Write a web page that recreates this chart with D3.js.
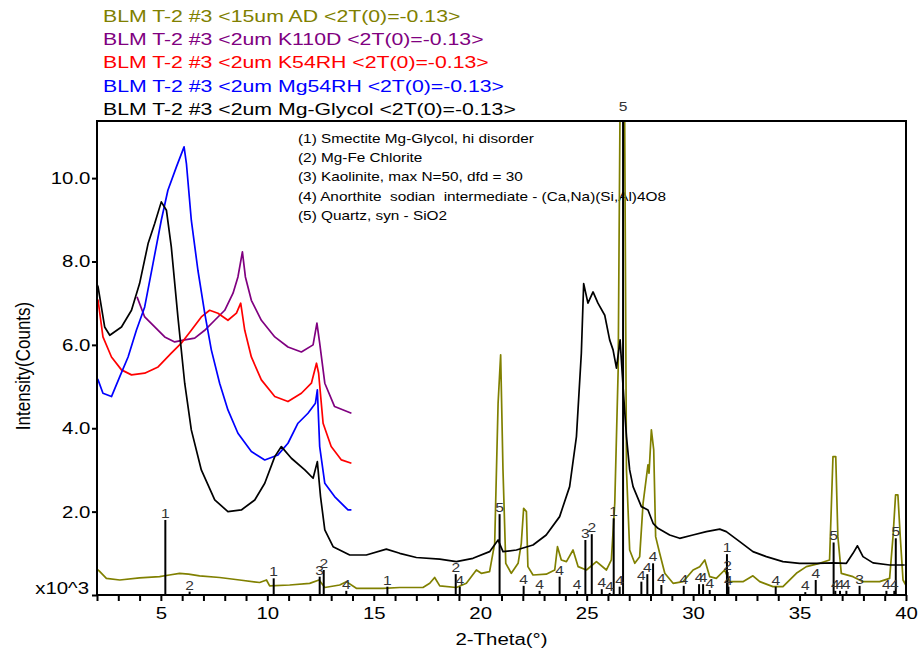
<!DOCTYPE html>
<html>
<head>
<meta charset="utf-8">
<script src="https://cdn.jsdelivr.net/npm/d3@7"></script>
<style>
  body { margin: 0; background: #fff; }
  svg { font-family: "Liberation Sans", Arial, sans-serif; }
</style>
</head>
<body>
<script>
// XRD scans, intensity in thousands of counts vs 2-theta
var legendNames = [
  "BLM T-2 #3 <15um AD <2T(0)=-0.13>",
  "BLM T-2 #3 <2um K110D <2T(0)=-0.13>",
  "BLM T-2 #3 <2um K54RH <2T(0)=-0.13>",
  "BLM T-2 #3 <2um Mg54RH <2T(0)=-0.13>",
  "BLM T-2 #3 <2um Mg-Glycol <2T(0)=-0.13>"
];
var legendColors = ["#808000", "#800080", "#ff0000", "#0000ff", "#000000"];

var phaseNames = [
  "(1) Smectite Mg-Glycol, hi disorder",
  "(2) Mg-Fe Chlorite",
  "(3) Kaolinite, max N=50, dfd = 30",
  "(4) Anorthite  sodian  intermediate - (Ca,Na)(Si,Al)4O8",
  "(5) Quartz, syn - SiO2"
];

var xTicks = d3.range(2, 41, 1);
var yTicks = [0, 2, 4, 6, 8, 10];

var ad15 = [[2.0,0.62],[2.1,0.58],[2.44,0.40],[3.07,0.36],[4.0,0.41],[4.94,0.44],[5.4,0.48],[5.88,0.52],
  [6.3,0.5],[6.82,0.46],[7.76,0.42],[8.7,0.36],[9.64,0.30],[9.96,0.36],[10.11,0.22],[11.05,0.24],
  [11.99,0.28],[12.43,0.36],[12.7,0.18],[13.4,0.24],[13.71,0.32],[14.18,0.16],[15.43,0.16],[16.22,0.18],
  [17.31,0.18],[17.63,0.28],[17.86,0.42],[18.1,0.22],[18.88,0.18],[19.35,0.28],[19.82,0.6],[20.05,0.52],
  [20.44,0.56],[20.68,1.24],[20.84,4.6],[20.96,5.76],[21.07,3.0],[21.2,0.76],[21.46,0.52],[21.78,0.76],
  [21.93,1.24],[22.04,2.08],[22.17,2.0],[22.24,0.68],[22.48,0.48],[23.1,0.50],[23.5,0.6],[23.63,1.16],
  [23.81,0.84],[24.05,0.8],[24.36,1.08],[24.6,0.68],[24.99,0.6],[25.46,0.8],[25.93,0.6],[26.16,0.84],
  [26.32,2.2],[26.48,5.4],[26.6,14],[26.76,14],[26.87,3.0],[27.02,1.08],[27.26,0.76],[27.49,0.92],
  [27.65,2.2],[27.88,3.12],[27.93,2.92],[28.04,3.96],[28.15,3.48],[28.24,1.4],[28.43,1.0],[28.67,0.52],
  [29.06,0.28],[29.53,0.32],[30.0,0.60],[30.31,0.68],[30.55,0.84],[30.78,0.44],[31.09,0.40],[31.48,0.60],
  [31.72,0.32],[32.34,0.32],[32.81,0.46],[33.13,0.32],[33.75,0.20],[34.22,0.2],[34.85,0.52],[35.32,0.68],
  [35.94,0.76],[36.41,0.84],[36.57,3.32],[36.7,3.32],[36.8,1.4],[36.96,0.52],[37.51,0.44],[37.98,0.32],
  [38.76,0.32],[39.23,0.4],[39.39,1.4],[39.51,2.4],[39.62,2.4],[39.73,1.4],[39.86,0.36],[39.99,0.24]];

var k110d = [[3.88,7.15],[4.24,6.67],[4.71,6.43],[5.18,6.19],[5.65,6.07],[6.12,6.12],[6.59,6.16],[7.06,6.35],
  [7.53,6.59],[8.0,6.83],[8.39,7.24],[8.62,7.63],[8.83,8.23],[8.97,7.63],[9.25,7.07],[9.72,6.59],
  [10.35,6.19],[10.97,5.95],[11.6,5.83],[12.15,6.0],[12.33,6.52],[12.46,6.04],[12.7,5.08],[13.16,4.52],
  [13.95,4.36]];

var k54rh = [[2.0,7.1],[2.05,7.07],[2.28,6.19],[2.68,5.71],[3.15,5.40],[3.62,5.28],[4.24,5.32],[4.87,5.47],
  [5.49,5.80],[5.96,6.04],[6.43,6.35],[6.9,6.67],[7.29,6.83],[7.68,6.76],[8.15,6.59],[8.55,6.76],
  [8.75,7.0],[8.94,6.35],[9.25,5.71],[9.72,5.16],[10.35,4.76],[10.97,4.64],[11.6,4.84],[12.07,5.08],
  [12.31,5.56],[12.41,5.32],[12.62,4.12],[13.0,3.56],[13.48,3.24],[13.95,3.16]];

var mg54rh = [[2.0,5.2],[2.05,5.16],[2.28,4.84],[2.68,4.76],[3.07,5.24],[3.46,5.71],[3.85,6.35],[4.24,6.91],
  [4.63,7.95],[5.02,8.99],[5.33,9.71],[5.73,10.27],[6.09,10.75],[6.2,10.35],[6.43,8.99],[6.74,7.79],
  [7.06,6.76],[7.37,5.88],[7.76,5.08],[8.15,4.44],[8.62,3.88],[9.25,3.44],[9.88,3.24],[10.5,3.36],
  [10.97,3.64],[11.44,4.12],[11.91,4.36],[12.26,4.6],[12.35,4.92],[12.46,3.56],[12.7,2.68],[13.16,2.36],
  [13.79,2.04],[13.95,2.04]];

var mgGlycol = [[2.0,7.45],[2.05,7.39],[2.36,6.43],[2.6,6.23],[3.15,6.43],[3.62,6.83],[4.0,7.47],[4.4,8.43],
  [4.71,8.91],[5.02,9.43],[5.26,9.23],[5.49,8.35],[5.80,6.67],[6.12,5.08],[6.43,3.96],[6.90,3.0],
  [7.53,2.28],[8.15,2.0],[8.78,2.04],[9.41,2.28],[9.88,2.68],[10.35,3.32],[10.66,3.56],[11.13,3.28],
  [11.76,3.0],[12.15,2.80],[12.35,3.20],[12.5,2.36],[12.54,2.2],[12.70,1.56],[13.09,1.16],[13.87,0.96],
  [14.65,0.96],[15.59,1.10],[16.22,1.0],[17.0,0.90],[18.1,0.86],[18.88,0.80],[19.66,0.88],[20.44,1.04],
  [20.84,1.32],[21.07,1.04],[21.7,1.08],[22.48,1.2],[23.1,1.44],[23.73,1.88],[24.2,2.60],[24.52,3.80],
  [24.75,5.80],[24.86,7.47],[25.06,7.0],[25.3,7.27],[25.53,7.0],[25.85,6.71],[26.08,6.12],[26.24,5.88],
  [26.4,5.44],[26.57,6.12],[26.74,4.76],[26.87,3.80],[27.02,3.0],[27.18,2.6],[27.57,2.12],[27.88,2.04],
  [28.12,1.72],[28.35,1.60],[28.9,1.44],[29.37,1.36],[29.99,1.44],[30.62,1.52],[31.25,1.58],[31.56,1.52],
  [32.19,1.28],[32.81,1.04],[33.44,0.92],[34.22,0.80],[35.0,0.76],[35.79,0.76],[36.57,0.77],[37.2,0.76],
  [37.51,1.0],[37.72,1.18],[37.98,0.92],[38.45,0.77],[39.23,0.72],[39.94,0.72]];

// reference peak markers [2-theta, height]
var smectitePeaks = [[5.21,1.80],[10.3,0.40],[15.64,0.20],[26.27,1.84],[31.59,0.98]];
var chloritePeaks = [[6.35,0.08],[12.65,0.60],[18.85,0.50],[25.24,1.46],[31.62,0.55]];
var kaolinitePeaks = [[12.46,0.44],[24.94,1.32],[37.82,0.22]];
var anorthitePeaks = [[13.71,0.10],[19.04,0.20],[22.04,0.22],[22.79,0.10],[23.73,0.44],[24.55,0.10],
  [25.71,0.14],[26.08,0.05],[26.55,0.20],[27.57,0.32],[27.85,0.50],[28.12,0.76],[28.51,0.24],
  [29.56,0.22],[30.28,0.26],[30.47,0.26],[30.78,0.12],[31.66,0.20],[33.88,0.20],[35.27,0.07],
  [35.76,0.36],[36.68,0.10],[36.9,0.10],[37.2,0.10],[39.08,0.10],[39.45,0.10]];
var quartzPeaks = [[20.91,1.94],[26.71,14],[36.6,1.26],[39.52,1.36]];

var margin = {top: 121, right: 13, bottom: 56, left: 97},
    width = 919 - margin.left - margin.right,
    height = 651 - margin.top - margin.bottom;

// the original text is a bit wider than the font, stretch it sideways
var stretch = 1.2;

var x = d3.scaleLinear().domain([2, 40]).range([0, width]);
var y = d3.scaleLinear().domain([0, 11.37]).range([height, 0]);

var root = d3.select("body").append("svg")
    .attr("width", 919)
    .attr("height", 651);

// legend lines at the top
root.selectAll(".legend")
    .data(legendNames)
    .enter().append("text")
    .attr("class", "legend")
    .attr("transform", function(d, i){
      return "translate(103," + (21.5 + i * 23.4) + ") scale(1.25,1)";
    })
    .attr("fill", function(d, i){ return legendColors[i]; })
    .style("font-size", "17px")
    .text(function(d){ return d; });

var svg = root.append("g")
    .attr("transform", "translate(" + margin.left + "," + margin.top + ")");

svg.append("clipPath").attr("id", "clip")
  .append("rect").attr("width", width).attr("height", height);

// axes
var xAxis = svg.append("g")
    .attr("transform", "translate(0," + height + ")")
    .call(d3.axisBottom(x).tickValues(xTicks).tickSize(6).tickSizeOuter(0)
      .tickFormat(function(d){ return d % 5 === 0 ? d : ""; }));
xAxis.select(".domain").remove();
xAxis.selectAll("line").attr("stroke-width", 2);
xAxis.selectAll("text")
    .style("font-size", "17px")
    .attr("fill", "#000")
    .attr("dy", "0.9em")
    .attr("transform", "scale(" + stretch + ",1)");

var yAxis = svg.append("g")
    .call(d3.axisLeft(y).tickValues(yTicks).tickSize(5).tickSizeOuter(0)
      .tickFormat(function(d){ return d === 0 ? "" : d3.format(".1f")(d); }));
yAxis.select(".domain").remove();
yAxis.selectAll("line").attr("stroke-width", 2);
yAxis.selectAll("text")
    .style("font-size", "17px")
    .attr("fill", "#000")
    .attr("x", -5.5)
    .attr("transform", "scale(" + stretch + ",1)");

svg.append("text")
    .attr("transform", "translate(-8," + (height - 1) + ") scale(" + stretch + ",1)")
    .attr("text-anchor", "end")
    .style("font-size", "17px")
    .text("x10^3");

svg.append("g")
    .attr("transform", "translate(-67," + (height / 2 + 8) + ") scale(" + stretch + ",1)")
  .append("text")
    .attr("transform", "rotate(-90)")
    .attr("text-anchor", "middle")
    .style("font-size", "17px")
    .text("Intensity(Counts)");

svg.append("text")
    .attr("transform", "translate(" + (width / 2) + "," + (height + 50) + ") scale(" + stretch + ",1)")
    .attr("text-anchor", "middle")
    .style("font-size", "17px")
    .text("2-Theta(°)");

// phase list
svg.selectAll(".phase")
    .data(phaseNames)
    .enter().append("text")
    .attr("class", "phase")
    .attr("transform", function(d, i){
      return "translate(201," + (22 + i * 19.2) + ") scale(1.18,1)";
    })
    .style("font-size", "13px")
    .style("white-space", "pre")
    .attr("xml:space", "preserve")
    .text(function(d){ return d; });

// scans
var line = d3.line()
    .x(function(d){ return x(d[0]); })
    .y(function(d){ return y(d[1]); });

var plot = svg.append("g").attr("clip-path", "url(#clip)");
var scans = [ad15, k110d, k54rh, mg54rh, mgGlycol];
scans.forEach(function(s, i){
  plot.append("path")
    .datum(s)
    .attr("fill", "none")
    .attr("stroke", legendColors[i])
    .attr("stroke-width", 1.7)
    .attr("stroke-linejoin", "round")
    .attr("d", line);
});

// peak markers
var phases = [smectitePeaks, chloritePeaks, kaolinitePeaks, anorthitePeaks, quartzPeaks];
phases.forEach(function(p, i){
  plot.selectAll(".stick" + i)
    .data(p)
    .enter().append("line")
    .attr("class", "stick" + i)
    .attr("x1", function(d){ return x(d[0]); })
    .attr("x2", function(d){ return x(d[0]); })
    .attr("y1", y(0))
    .attr("y2", function(d){ return y(d[1]); })
    .attr("stroke", "#000")
    .attr("stroke-width", 2);

  svg.selectAll(".lab" + i)
    .data(p)
    .enter().append("text")
    .attr("class", "lab" + i)
    .attr("transform", function(d){
      return "translate(" + x(d[0]) + "," + (Math.max(y(d[1]), -8) - 2) + ") scale(" + stretch + ",1)";
    })
    .attr("text-anchor", "middle")
    .attr("fill", "#333")
    .style("font-size", "13px")
    .text(i + 1);
});

svg.append("rect")
    .attr("width", width).attr("height", height)
    .attr("fill", "none")
    .attr("stroke", "#000")
    .attr("stroke-width", 2);
</script>
</body>
</html>
